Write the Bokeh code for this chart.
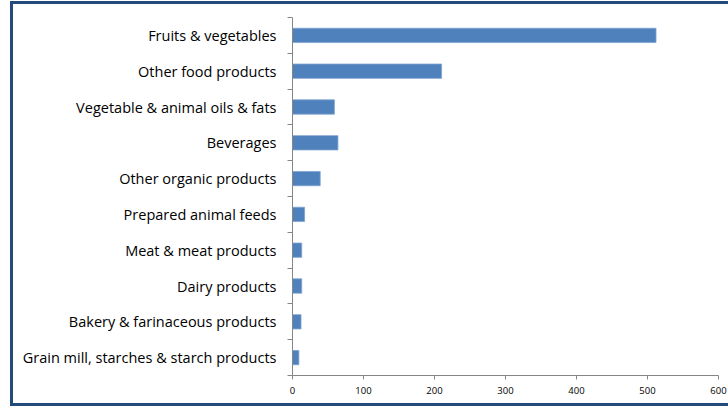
from bokeh.plotting import figure
from bokeh.models import FixedTicker, Range1d, ColumnDataSource
from bokeh.embed import file_html
from bokeh.resources import INLINE

# Categories listed top to bottom
categories = [
    "Fruits & vegetables",
    "Other food products",
    "Vegetable & animal oils & fats",
    "Beverages",
    "Other organic products",
    "Prepared animal feeds",
    "Meat & meat products",
    "Dairy products",
    "Bakery & farinaceous products",
    "Grain mill, starches & starch products",
]
values = [512, 210, 59, 64, 39, 17, 13, 13, 12, 9]
x_ticks = [0, 100, 200, 300, 400, 500, 600]

n = len(categories)
ypos = [n - i for i in range(n)]  # top category at highest position

source = ColumnDataSource(dict(y=ypos, v=values, name=categories))

FONT = "Open Sans"
AXIS_COLOR = "#868686"
NAVY = "#244A7C"

p = figure(
    width=728, height=406,
    output_backend="svg", toolbar_location=None,
    x_range=Range1d(0, 600), y_range=Range1d(0.5, n + 0.5),
    min_border_left=292, min_border_right=10, min_border_top=17, min_border_bottom=31,
    styles={
        "box-shadow": (
            "inset 10px 0 0 0 #ffffff, "
            "inset 0 1px 0 0 #ffffff, "
            f"inset 13px 0 0 0 {NAVY}, "
            f"inset 0 4px 0 0 {NAVY}, "
            f"inset 0 -3px 0 0 {NAVY}"
        ),
    },
)
p.outline_line_color = None
p.grid.visible = False
p.background_fill_color = "white"
p.border_fill_color = None

p.hbar(y="y", right="v", left=0, height=0.4, source=source,
       fill_color="#4F81BD", line_color="#7FA3D0", line_width=0.8)

# x axis
xa = p.xaxis[0]
xa.ticker = FixedTicker(ticks=x_ticks)
xa.axis_line_color = AXIS_COLOR
xa.major_tick_line_color = AXIS_COLOR
xa.major_tick_out = 4
xa.major_tick_in = 0
xa.minor_tick_line_color = None
xa.major_label_text_font = FONT
xa.major_label_text_font_size = "9.5px"
xa.major_label_text_color = "#000000"
xa.major_label_standoff = 7

# y axis: labels at category centers, tick marks at boundaries
ya = p.yaxis[0]
boundaries = [i + 0.5 for i in range(n + 1)]
ya.ticker = FixedTicker(ticks=ypos, minor_ticks=boundaries)
ya.major_label_overrides = {y: c for y, c in zip(ypos, categories)}
ya.axis_line_color = AXIS_COLOR
ya.major_tick_line_color = None
ya.major_tick_out = 5
ya.major_tick_in = 0
ya.minor_tick_line_color = AXIS_COLOR
ya.minor_tick_out = 5
ya.minor_tick_in = 0
ya.major_label_text_font = FONT
ya.major_label_text_font_size = "14.5px"
ya.major_label_text_color = "#000000"
ya.major_label_standoff = 11

open("out.html", "w").write(file_html(p, INLINE))
